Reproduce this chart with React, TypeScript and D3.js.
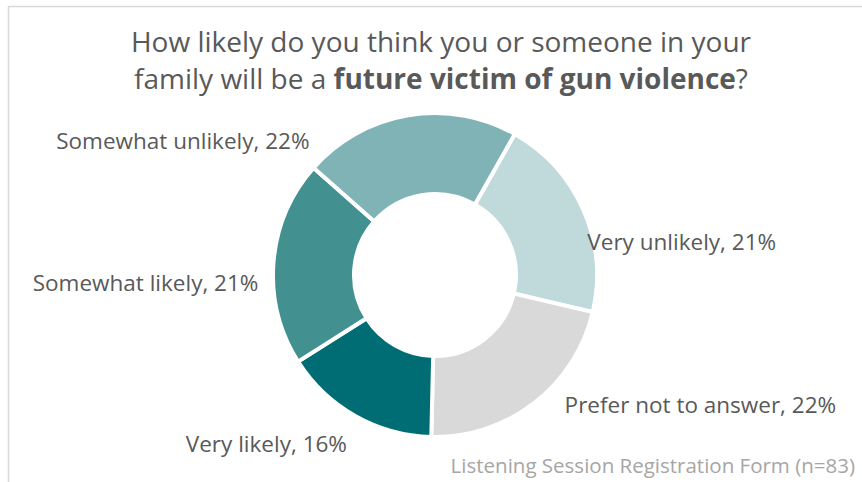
import React from "react";
import * as d3 from "d3";

const categories = ["Very unlikely", "Prefer not to answer", "Very likely", "Somewhat likely", "Somewhat unlikely"];
const counts = [17, 18, 13, 17, 18];
const percentLabels = ["21%", "22%", "16%", "21%", "22%"];
const colors = ["#c0dadb", "#d9d9d9", "#006d74", "#42908f", "#80b3b6"];
// label offsets (dx, dy) relative to the arc centroid at label radius
const labelOffsets: [number, number][] = [
  [80, 39],
  [154, -14],
  [-79, 10],
  [-108, 22],
  [-222, 45],
];

const W = 862;
const H = 482;
const cx = 435;
const cy = 275;
const outerR = 162;
const innerR = 81;
const startDeg = 29.5;

export default function App() {
  const pie = d3
    .pie<number>()
    .sort(null)
    .startAngle((startDeg * Math.PI) / 180)
    .endAngle(((startDeg + 360) * Math.PI) / 180);
  const arcs = pie(counts);
  const arc = d3.arc<d3.PieArcDatum<number>>().innerRadius(innerR).outerRadius(outerR);
  const labelArc = d3.arc<d3.PieArcDatum<number>>().innerRadius(outerR + 20).outerRadius(outerR + 20);
  const font = "'Open Sans', 'Segoe UI', sans-serif";

  return (
    <svg width={W} height={H} style={{ position: "absolute", left: 0, top: 0, background: "#fff" }}>
      <rect x={8.5} y={6.5} width={W + 10} height={H + 10} fill="#fff" stroke="#d9d9d9" strokeWidth={1.5} />
      <text x={441} y={52} textAnchor="middle" fontFamily={font} fontSize={28} fill="#595959">
        How likely do you think you or someone in your
      </text>
      <text x={441} y={89} textAnchor="middle" fontFamily={font} fontSize={28} fill="#595959">
        family will be a <tspan fontWeight="bold">future victim of gun violence</tspan>?
      </text>
      <g transform={`translate(${cx},${cy})`}>
        {arcs.map((a, i) => (
          <path key={categories[i]} d={arc(a) ?? ""} fill={colors[i]} stroke="#fff" strokeWidth={4} />
        ))}
        {arcs.map((a, i) => {
          const [x, y] = labelArc.centroid(a);
          return (
            <text
              key={"l" + i}
              x={x + labelOffsets[i][0]}
              y={y + labelOffsets[i][1]}
              textAnchor="middle"
              dominantBaseline="central"
              fontFamily={font}
              fontSize={22.5}
              fill="#595959"
            >
              {categories[i]}, {percentLabels[i]}
            </text>
          );
        })}
      </g>
      <text x={855} y={473} textAnchor="end" fontFamily={font} fontSize={20.5} fill="#a6a6a6">
        Listening Session Registration Form (n=83)
      </text>
    </svg>
  );
}
